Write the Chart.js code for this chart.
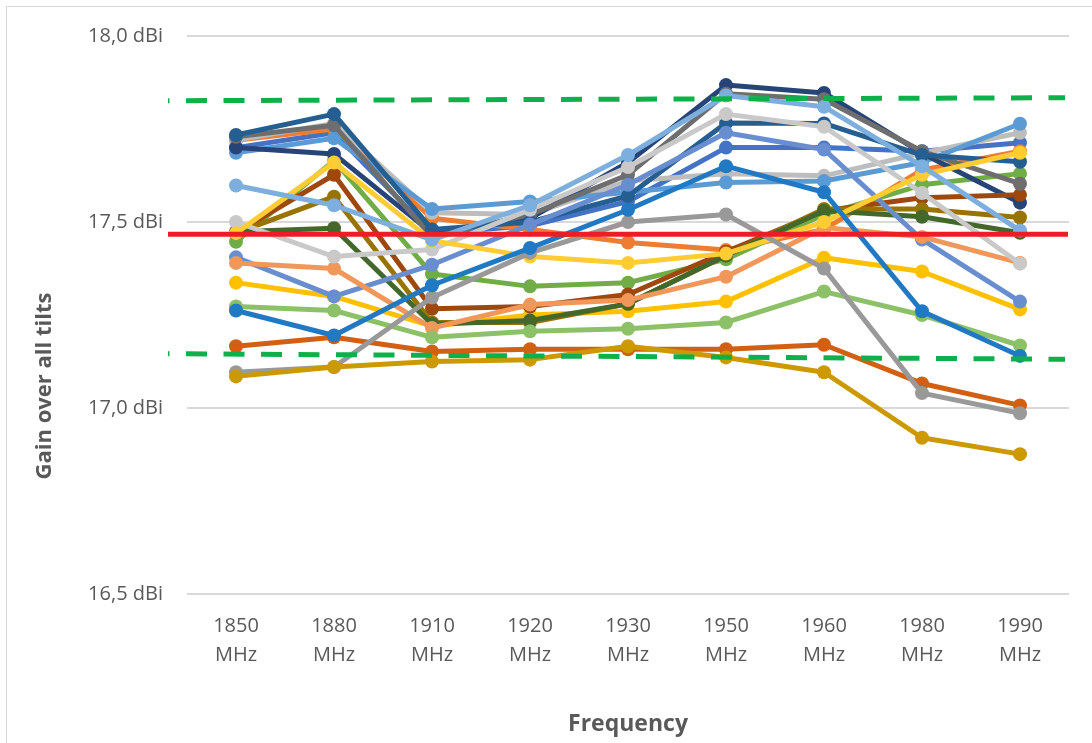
<!DOCTYPE html>
<html>
<head>
<meta charset="utf-8">
<script src="https://cdn.jsdelivr.net/npm/chart.js@4.4.1/dist/chart.umd.min.js"></script>
<style>
  html, body { margin: 0; padding: 0; background: #ffffff; }
  canvas { display: block; }
</style>
</head>
<body>
<canvas id="c" width="1092" height="743"></canvas>
<script>
// ---------- data ----------
const categories = ['1850 MHz', '1880 MHz', '1910 MHz', '1920 MHz', '1930 MHz', '1950 MHz', '1960 MHz', '1980 MHz', '1990 MHz'];
const yTicks = [16.5, 17.0, 17.5, 18.0];

const series01 = [17.700, 17.740, 17.470, 17.490, 17.555, 17.700, 17.700, 17.690, 17.713];
const series02 = [17.720, 17.750, 17.510, 17.480, 17.445, 17.425, 17.480, 17.640, 17.690];
const series03 = [17.720, 17.765, 17.525, 17.520, 17.610, 17.630, 17.624, 17.685, 17.740];
const series04 = [17.337, 17.300, 17.220, 17.250, 17.260, 17.286, 17.404, 17.367, 17.265];
const series05 = [17.686, 17.725, 17.535, 17.555, 17.580, 17.606, 17.610, 17.660, 17.764];
const series06 = [17.447, 17.665, 17.360, 17.327, 17.337, 17.400, 17.520, 17.600, 17.630];
const series07 = [17.700, 17.683, 17.470, 17.510, 17.660, 17.868, 17.847, 17.685, 17.552];
const series08 = [17.470, 17.627, 17.267, 17.273, 17.305, 17.420, 17.530, 17.565, 17.573];
const series09 = [17.729, 17.760, 17.460, 17.520, 17.627, 17.845, 17.830, 17.690, 17.603];
const series10 = [17.470, 17.568, 17.230, 17.230, 17.280, 17.410, 17.535, 17.535, 17.512];
const series11 = [17.734, 17.790, 17.480, 17.500, 17.570, 17.766, 17.765, 17.680, 17.662];
const series12 = [17.474, 17.483, 17.225, 17.235, 17.280, 17.410, 17.530, 17.514, 17.471];
const series13 = [17.405, 17.300, 17.385, 17.493, 17.600, 17.740, 17.695, 17.453, 17.286];
const series14 = [17.390, 17.375, 17.215, 17.278, 17.290, 17.353, 17.485, 17.460, 17.390];
const series15 = [17.500, 17.407, 17.426, 17.533, 17.648, 17.790, 17.756, 17.578, 17.388];
const series16 = [17.470, 17.660, 17.450, 17.407, 17.390, 17.415, 17.500, 17.627, 17.686];
const series17 = [17.598, 17.545, 17.452, 17.545, 17.680, 17.840, 17.810, 17.650, 17.477];
const series18 = [17.273, 17.262, 17.190, 17.206, 17.213, 17.230, 17.313, 17.250, 17.168];
const series19 = [17.166, 17.190, 17.152, 17.158, 17.158, 17.158, 17.170, 17.066, 17.007];
const series20 = [17.096, 17.110, 17.297, 17.417, 17.500, 17.520, 17.375, 17.040, 16.986];
const series21 = [17.085, 17.110, 17.125, 17.130, 17.166, 17.136, 17.096, 16.920, 16.876];
const series22 = [17.262, 17.195, 17.330, 17.430, 17.533, 17.650, 17.580, 17.260, 17.140];

// reference lines (values at left and right end)
const meanLine = [17.467, 17.467];
const upperLimit = [17.826, 17.834];
const lowerLimit = [17.146, 17.131];

// ---------- styles ----------
const seriesList = [series01, series02, series03, series04, series05, series06, series07, series08,
  series09, series10, series11, series12, series13, series14, series15, series16, series17,
  series18, series19, series20, series21, series22];
const seriesColors = ['#4472C4', '#ED7D31', '#BDBDBD', '#FFC000', '#5B9BD5', '#70AD47', '#264478', '#9E480E',
  '#6E6E6E', '#997300', '#255E91', '#43682B', '#698ED0', '#F1975A', '#C9C9C9', '#FFCD33', '#7CAFDD',
  '#8CC168', '#D26012', '#999999', '#CC9A00', '#2179C4'];

const FONT = "'Open Sans', 'DejaVu Sans', sans-serif";
const TEXT = '#595959';

const datasets = seriesList.map((vals, i) => ({
  label: 'Series ' + (i + 1),
  data: vals,
  borderColor: seriesColors[i],
  backgroundColor: seriesColors[i],
  pointBackgroundColor: seriesColors[i],
  pointBorderColor: seriesColors[i],
  borderWidth: 5,
  pointRadius: 7,
  pointBorderWidth: 0,
  borderJoinStyle: 'round',
  borderCapStyle: 'round',
  tension: 0,
  fill: false
})).reverse(); // later series on top, as in the original

const refLines = {
  id: 'refLines',
  afterDatasetsDraw(chart) {
    const { ctx, chartArea } = chart;
    const ys = chart.scales.y;
    const L = chartArea.left - 19;
    ctx.save();
    // green dashed limits
    ctx.strokeStyle = '#0DB04B';
    ctx.lineWidth = 5;
    ctx.setLineDash([21, 16.5]);
    ctx.lineDashOffset = 19.5;
    [upperLimit, lowerLimit].forEach(v => {
      ctx.beginPath();
      ctx.moveTo(L, ys.getPixelForValue(v[0]));
      ctx.lineTo(chartArea.right - 4, ys.getPixelForValue(v[1]));
      ctx.stroke();
    });
    // red mean line
    ctx.setLineDash([]);
    ctx.strokeStyle = '#EE1C25';
    ctx.beginPath();
    ctx.moveTo(L, ys.getPixelForValue(meanLine[0]));
    ctx.lineTo(chartArea.right - 1, ys.getPixelForValue(meanLine[1]));
    ctx.stroke();
    ctx.restore();
  }
};

const decor = {
  id: 'decor',
  beforeDraw(chart) {
    const { ctx } = chart;
    ctx.save();
    ctx.strokeStyle = '#D9D9D9';
    ctx.lineWidth = 1;
    ctx.strokeRect(6.5, 6.5, 1200, 1000);
    ctx.restore();
  },
  afterDraw(chart) {
    const { ctx } = chart;
    ctx.save();
    ctx.translate(45, 386);
    ctx.rotate(-Math.PI / 2);
    ctx.font = "bold 22px " + FONT;
    ctx.fillStyle = TEXT;
    ctx.textAlign = 'center';
    ctx.textBaseline = 'middle';
    ctx.fillText('Gain over all tilts', 0, 0);
    ctx.restore();
  }
};

new Chart(document.getElementById('c'), {
  type: 'line',
  data: { labels: categories.map(c => c.split(' ')), datasets },
  options: {
    responsive: false,
    animation: false,
    layout: { padding: { left: 0, right: 23, top: 36, bottom: 0 } },
    plugins: { legend: { display: false }, tooltip: { enabled: false } },
    scales: {
      x: {
        offset: true,
        grid: { display: false, drawTicks: false },
        border: { display: false },
        ticks: { font: { family: FONT, size: 20, lineHeight: 1.45 }, color: TEXT, padding: 18, maxRotation: 0, autoSkip: false },
        title: { display: true, text: 'Frequency', color: TEXT, font: { family: FONT, size: 23, weight: 'bold' }, padding: { top: 0, bottom: 5 } },
        afterFit(s) { s.height = 149; }
      },
      y: {
        min: yTicks[0],
        max: yTicks[yTicks.length - 1],
        afterBuildTicks(s) { s.ticks = yTicks.map(v => ({ value: v })); },
        ticks: {
          font: { family: FONT, size: 20 }, color: TEXT, padding: 24,
          callback: v => v.toFixed(1).replace('.', ',') + ' dBi'
        },
        grid: { color: '#D9D9D9', lineWidth: 2, drawTicks: false },
        border: { display: false },
        afterFit(s) { s.width = 187; }
      }
    }
  },
  plugins: [refLines, decor]
});
</script>
</body>
</html>
